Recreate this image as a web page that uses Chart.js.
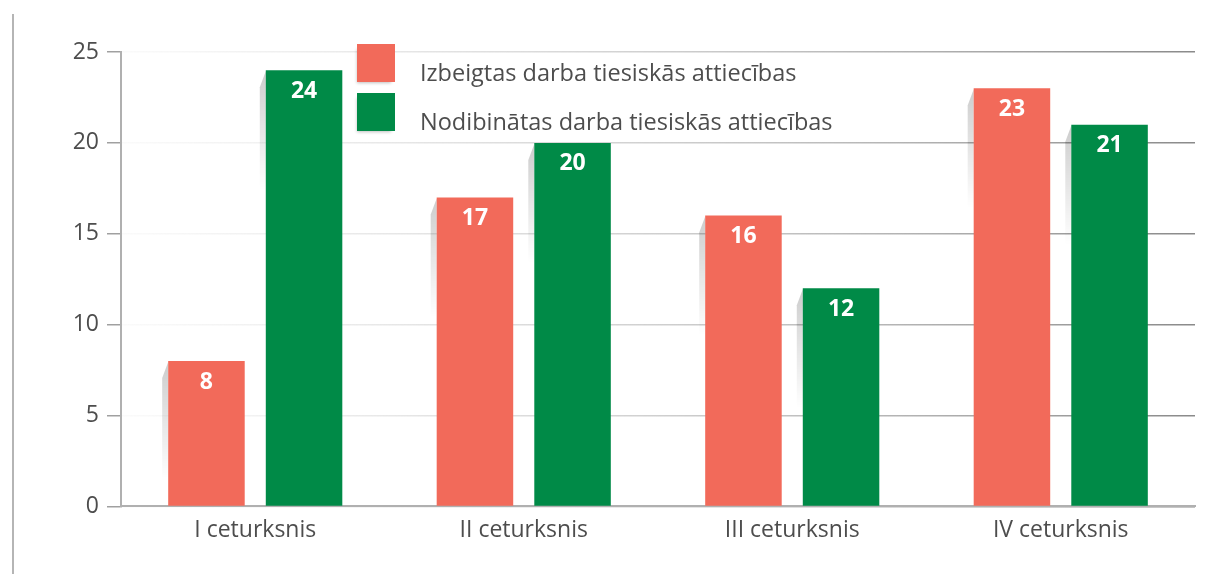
<!DOCTYPE html>
<html>
<head>
<meta charset="utf-8">
<script src="https://cdn.jsdelivr.net/npm/chart.js@4.4.1/dist/chart.umd.min.js"></script>
<style>
  html, body { margin: 0; padding: 0; background: #fff; }
  #wrap { position: relative; width: 1223px; height: 574px; overflow: hidden; }
  #side-line { position: absolute; left: 12px; top: 14px; width: 2px; height: 560px; background: #b5b5b5; }
  #chart { position: absolute; left: 0; top: 0; }
  #legend { position: absolute; left: 357px; top: 44px; font-family: "Open Sans", sans-serif; font-size: 23.5px; color: #4d4d4d; }
  .leg-item { position: relative; height: 49px; }
  .leg-box { position: absolute; left: 0; top: 0; width: 38px; height: 38px; box-shadow: -2px 3px 3px -2px rgba(0,0,0,0.25); }
  .leg-text { position: absolute; left: 63px; top: 9px; line-height: 38px; white-space: nowrap; }
</style>
</head>
<body>
<div id="wrap">
  <div id="side-line"></div>
  <canvas id="chart" width="1223" height="574"></canvas>
  <div id="legend"></div>
</div>
<script>
// dati
const quarters = ['I ceturksnis', 'II ceturksnis', 'III ceturksnis', 'IV ceturksnis'];
const terminated = [8, 17, 16, 23];   // Izbeigtas
const established = [24, 20, 12, 21]; // Nodibinātas
const seriesNames = ['Izbeigtas darba tiesiskās attiecības', 'Nodibinātas darba tiesiskās attiecības'];
const yTicks = [0, 5, 10, 15, 20, 25];

const RED = '#f26a5a';
const GREEN = '#008a47';
const FONT = '"Open Sans", sans-serif';

// --- ēna pa kreisi no stabiņiem ---
const barShadows = {
    id: 'barShadows',
    beforeDatasetsDraw(chart) {
        const ctx = chart.ctx;
        chart.data.datasets.forEach((ds, i) => {
            chart.getDatasetMeta(i).data.forEach(bar => {
                const left = bar.x - bar.width / 2;
                const top = bar.y;
                const len = Math.min(120, bar.base - top);
                const g = ctx.createLinearGradient(0, top, 0, top + len);
                g.addColorStop(0, 'rgba(0,0,0,0.2)');
                g.addColorStop(1, 'rgba(0,0,0,0)');
                ctx.save();
                ctx.fillStyle = g;
                ctx.beginPath();
                ctx.moveTo(left, top + 1);
                ctx.lineTo(left - 6, top + 17);
                ctx.lineTo(left - 6, top + len);
                ctx.lineTo(left, top + len);
                ctx.closePath();
                ctx.fill();
                ctx.restore();
            });
        });
    }
};

// --- vērtības stabiņu augšā ---
const barValues = {
    id: 'barValues',
    afterDatasetsDraw(chart) {
        const ctx = chart.ctx;
        ctx.save();
        ctx.font = 'bold 23px ' + FONT;
        ctx.fillStyle = '#fff';
        ctx.textAlign = 'center';
        ctx.textBaseline = 'middle';
        chart.data.datasets.forEach((ds, i) => {
            chart.getDatasetMeta(i).data.forEach((bar, j) => {
                ctx.fillText(ds.data[j], bar.x, bar.y + 21);
            });
        });
        ctx.restore();
    }
};

const ctx = document.getElementById('chart').getContext('2d');
const chart = new Chart(ctx, {
    type: 'bar',
    data: {
        labels: quarters,
        datasets: [
            { label: seriesNames[0], data: terminated, backgroundColor: RED },
            { label: seriesNames[1], data: established, backgroundColor: GREEN }
        ]
    },
    options: {
        responsive: false,
        devicePixelRatio: 1,
        animation: false,
        categoryPercentage: 0.727,
        barPercentage: 0.784,
        layout: { padding: { top: 52, right: 28, bottom: 28, left: 0 } },
        plugins: { legend: { display: false }, tooltip: { enabled: false } },
        scales: {
            x: {
                grid: { display: false },
                border: { color: '#b0b0b0', width: 2 },
                ticks: { color: '#4d4d4d', font: { family: FONT, size: 23 }, padding: 2 }
            },
            y: {
                min: 0,
                max: 25,
                afterFit: (scale) => { scale.width = 121; },
                afterBuildTicks: (scale) => { scale.ticks = yTicks.map(v => ({ value: v })); },
                grid: {
                    color: (c) => {
                        const a = c.chart.chartArea;
                        if (!a) return '#ccc';
                        const g = c.chart.ctx.createLinearGradient(a.left, 0, a.right, 0);
                        g.addColorStop(0, 'rgba(210,210,210,0.1)');
                        g.addColorStop(0.35, 'rgba(200,200,200,0.6)');
                        g.addColorStop(1, '#8a8a8a');
                        return g;
                    },
                    lineWidth: 1.5,
                    tickColor: '#a0a0a0',
                    tickLength: 14
                },
                border: { color: '#b0b0b0', width: 2 },
                ticks: { color: '#4d4d4d', font: { family: FONT, size: 23 }, padding: 8 }
            }
        }
    },
    plugins: [barShadows, barValues]
});

// leģenda
const legendDiv = document.getElementById('legend');
chart.data.datasets.forEach(ds => {
    legendDiv.innerHTML += `<div class="leg-item"><div class="leg-box" style="background:${ds.backgroundColor}"></div><span class="leg-text">${ds.label}</span></div>`;
});
</script>
</body>
</html>
